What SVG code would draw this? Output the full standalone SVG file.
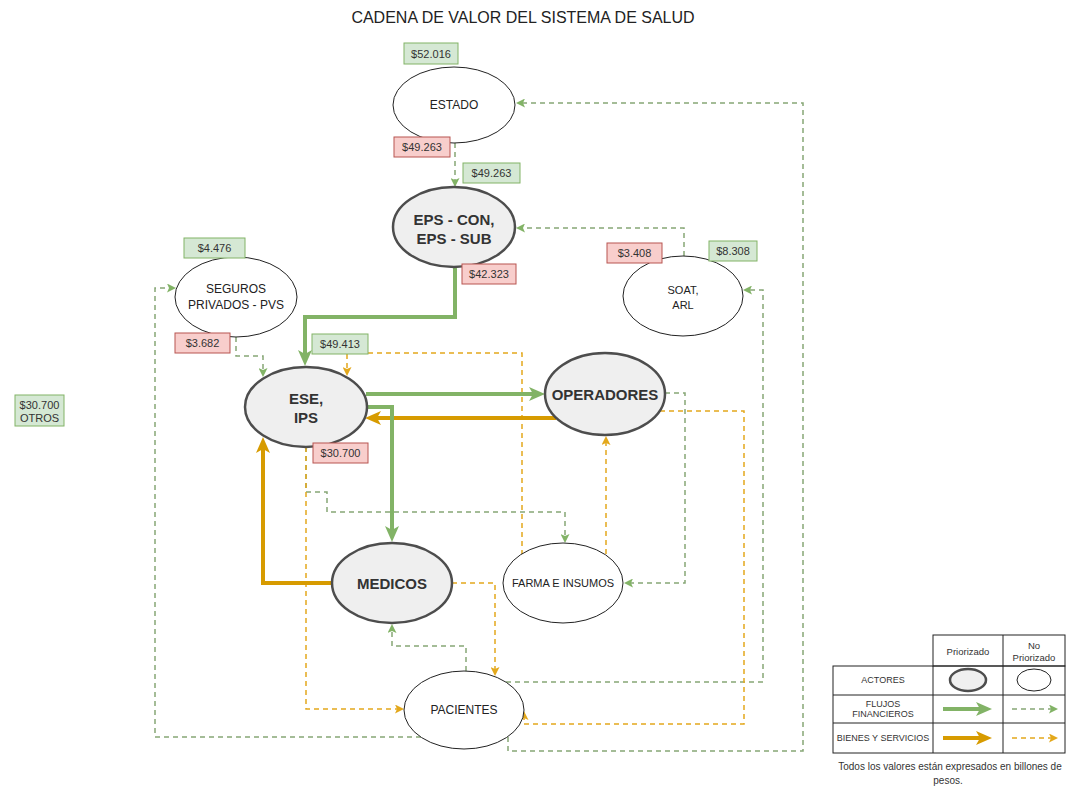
<svg xmlns="http://www.w3.org/2000/svg" width="1067" height="787" viewBox="0 0 1067 787">
<style>
text{font-family:"Liberation Sans",Arial,Helvetica,sans-serif;fill:#222;text-anchor:middle;dominant-baseline:central}
.t{font-size:16px}
.n{font-size:12px}
.n11{font-size:11px}
.b{font-size:15px;font-weight:bold;fill:#333}
.lb{font-size:11px;fill:#333}
.lg{font-size:9px;fill:#333}
.nt{font-size:10px;fill:#333}
.lgh{font-size:9.5px;fill:#333}
.pri{fill:#efefef;stroke:#4d4d4d;stroke-width:2.5}
.npr{fill:#fff;stroke:#222;stroke-width:1}
.gb{fill:#d5e8d4;stroke:#82b366;stroke-width:1}
.rb{fill:#f8cecc;stroke:#b85450;stroke-width:1}
.fd{fill:none;stroke:#86a676;stroke-width:1.5;stroke-dasharray:5 4}
.od{fill:none;stroke:#e3a81c;stroke-width:1.5;stroke-dasharray:5 4}
.fs{fill:none;stroke:#82b366;stroke-width:4}
.os{fill:none;stroke:#d79b00;stroke-width:4}
.tbl{fill:none;stroke:#222;stroke-width:1}
</style>
<defs>
<marker id="aG" markerUnits="userSpaceOnUse" markerWidth="16" markerHeight="14" refX="4" refY="7" orient="auto"><path d="M0,0 L16,7 L0,14 L4,7 z" fill="#82b366"/></marker>
<marker id="aO" markerUnits="userSpaceOnUse" markerWidth="16" markerHeight="14" refX="4" refY="7" orient="auto"><path d="M0,0 L16,7 L0,14 L4,7 z" fill="#d79b00"/></marker>
<marker id="ag" markerUnits="userSpaceOnUse" markerWidth="9" markerHeight="9" refX="2" refY="4.5" orient="auto"><path d="M0,0 L9,4.5 L0,9 L2,4.5 z" fill="#82b366"/></marker>
<marker id="ao" markerUnits="userSpaceOnUse" markerWidth="9" markerHeight="9" refX="2" refY="4.5" orient="auto"><path d="M0,0 L9,4.5 L0,9 L2,4.5 z" fill="#e3a81c"/></marker>
</defs>
<rect width="1067" height="787" fill="#fff"/>
<text class="t" x="523" y="17">CADENA DE VALOR DEL SISTEMA DE SALUD</text>

<g id="connectors">
<path class="fd" d="M455,143 V180" marker-end="url(#ag)"/>
<path class="fd" d="M684,256 V228 H523" marker-end="url(#ag)"/>
<path class="fd" d="M506,682 H763 V290 H750" marker-end="url(#ag)"/>
<path class="fd" d="M508,737 V751 H803 V103 H523" marker-end="url(#ag)"/>
<path class="fd" d="M421,737 H155 V288 H169" marker-end="url(#ag)"/>
<path class="fd" d="M236,337 V356 H263 V370" marker-end="url(#ag)"/>
<path class="fd" d="M306,447 V492 H327 V512 H565 V536" marker-end="url(#ag)"/>
<path class="fd" d="M466,671 V646 H392 V631" marker-end="url(#ag)"/>
<path class="fd" d="M665,393 H685 V583 H631" marker-end="url(#ag)"/>
<path class="od" d="M306,447 V709 H397" marker-end="url(#ao)"/>
<path class="od" d="M452,583 H495 V669" marker-end="url(#ao)"/>
<path class="od" d="M660,411 H744 V724 H524 V718" marker-end="url(#ao)"/>
<path class="od" d="M606,554 V443" marker-end="url(#ao)"/>
<path class="od" d="M522,555 V353 H347 V369" marker-end="url(#ao)"/>
<path class="fs" d="M455,267 V317 H305 V354" marker-end="url(#aG)"/>
<path class="fs" d="M366,394 H533" marker-end="url(#aG)"/>
<path class="os" d="M556,418 H377" marker-end="url(#aO)"/>
<path class="fs" d="M367,407 H392 V530" marker-end="url(#aG)"/>
<path class="os" d="M332,583 H263 V449" marker-end="url(#aO)"/>
</g>

<g id="estado">
<ellipse class="npr" cx="454" cy="105" rx="61" ry="38"/>
<text class="n" x="454" y="105">ESTADO</text>
</g>
<g id="eps">
<ellipse class="pri" cx="454" cy="227" rx="61" ry="40"/>
<text class="b" x="454" y="219">EPS - CON,</text>
<text class="b" x="454" y="238">EPS - SUB</text>
</g>
<g id="seguros">
<ellipse class="npr" cx="236" cy="297" rx="61" ry="40"/>
<text class="n" x="236" y="289">SEGUROS</text>
<text class="n" x="236" y="305">PRIVADOS - PVS</text>
</g>
<g id="soat">
<ellipse class="npr" cx="683" cy="296" rx="60" ry="40"/>
<text class="n11" x="683" y="290">SOAT,</text>
<text class="n11" x="683" y="305">ARL</text>
</g>
<g id="ese">
<ellipse class="pri" cx="306" cy="407" rx="61" ry="40"/>
<text class="b" x="306" y="398">ESE,</text>
<text class="b" x="306" y="417">IPS</text>
</g>
<g id="operadores">
<ellipse class="pri" cx="605" cy="394" rx="60" ry="41"/>
<text class="b" x="605" y="394">OPERADORES</text>
</g>
<g id="medicos">
<ellipse class="pri" cx="392" cy="583" rx="60" ry="40"/>
<text class="b" x="392" y="583">MEDICOS</text>
</g>
<g id="farma">
<ellipse class="npr" cx="563" cy="583" rx="60" ry="40"/>
<text class="n11" x="563" y="583">FARMA E INSUMOS</text>
</g>
<g id="pacientes">
<ellipse class="npr" cx="464" cy="710" rx="60" ry="39"/>
<text class="n" x="464" y="710">PACIENTES</text>
</g>

<g id="labels">
<rect class="gb" x="404" y="43" width="54" height="21"/><text class="lb" x="431" y="53.5">$52.016</text>
<rect class="rb" x="394" y="137" width="56" height="20"/><text class="lb" x="422" y="147">$49.263</text>
<rect class="gb" x="463" y="163" width="57" height="20"/><text class="lb" x="491.5" y="173">$49.263</text>
<rect class="rb" x="462" y="264" width="54" height="20"/><text class="lb" x="489" y="274">$42.323</text>
<rect class="gb" x="184" y="238" width="61" height="20"/><text class="lb" x="214.5" y="248">$4.476</text>
<rect class="rb" x="175" y="333" width="55" height="20"/><text class="lb" x="202.5" y="343">$3.682</text>
<rect class="rb" x="607" y="243" width="55" height="20"/><text class="lb" x="634.5" y="253">$3.408</text>
<rect class="gb" x="709" y="241" width="48" height="20"/><text class="lb" x="733" y="251">$8.308</text>
<rect class="gb" x="312" y="334" width="56" height="20"/><text class="lb" x="340" y="344">$49.413</text>
<rect class="rb" x="313" y="443" width="55" height="20"/><text class="lb" x="340.5" y="453">$30.700</text>
<rect class="gb" x="15" y="395" width="49" height="31"/><text class="lb" x="39.5" y="404.5">$30.700</text><text class="lb" x="39.5" y="418">OTROS</text>
</g>

<g id="legend">
<rect class="tbl" x="933" y="635" width="132" height="31"/>
<rect class="tbl" x="833" y="666" width="232" height="87"/>
<path class="tbl" d="M833,695 H1065 M833,723 H1065 M933,666 V753 M1003,635 V753"/>
<text class="lgh" x="968" y="651">Priorizado</text>
<text class="lgh" x="1034" y="645">No</text>
<text class="lgh" x="1034" y="657">Priorizado</text>
<text class="lg" x="883" y="680">ACTORES</text>
<text class="lg" x="883" y="704">FLUJOS</text>
<text class="lg" x="883" y="714">FINANCIEROS</text>
<text class="lg" x="883" y="738">BIENES Y SERVICIOS</text>
<ellipse class="pri" cx="968" cy="680" rx="18" ry="11"/>
<ellipse class="npr" cx="1034" cy="680" rx="17" ry="11"/>
<path class="fs" d="M943,709 H980" marker-end="url(#aG)"/>
<path class="fd" d="M1012,709 H1051" marker-end="url(#ag)"/>
<path class="os" d="M943,738 H980" marker-end="url(#aO)"/>
<path class="od" d="M1012,738 H1051" marker-end="url(#ao)"/>
<text class="nt" x="950" y="766">Todos los valores están expresados en billones de</text>
<text class="nt" x="948" y="780">pesos.</text>
</g>
</svg>
